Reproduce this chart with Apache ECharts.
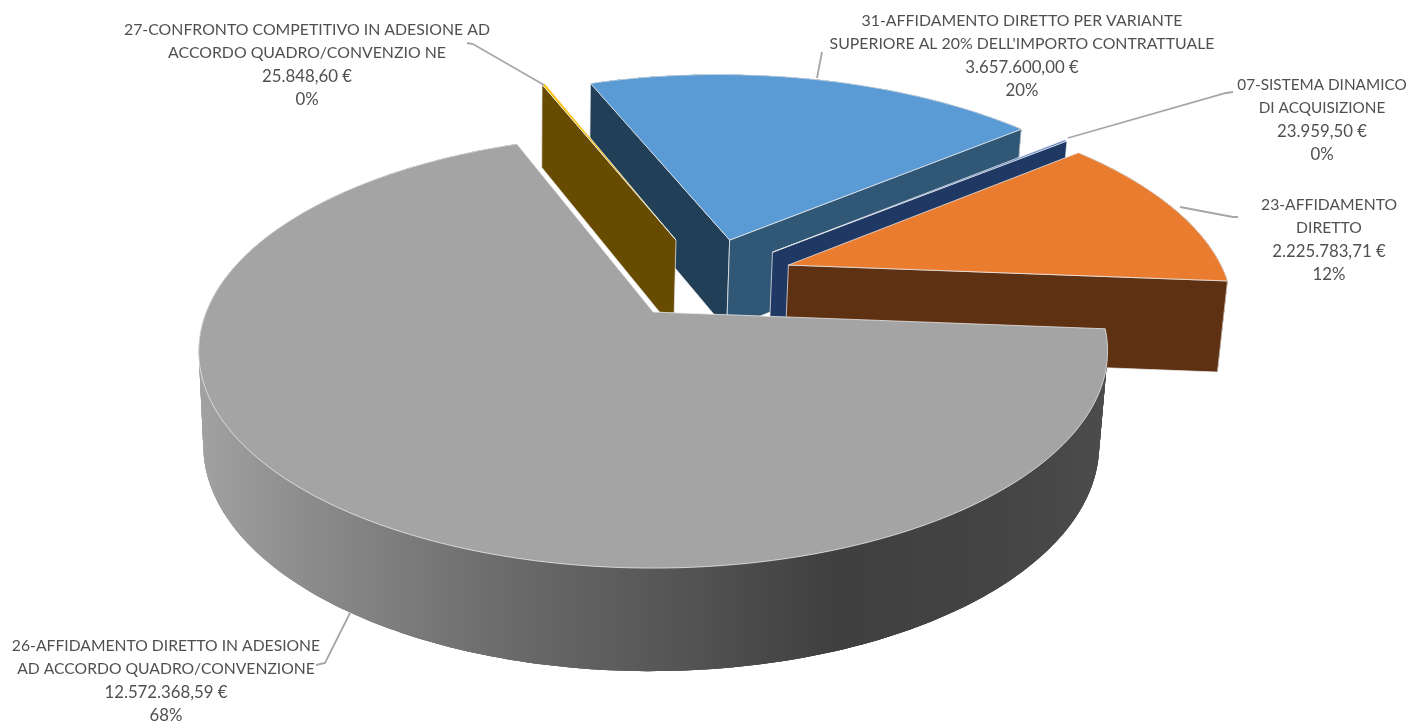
<!DOCTYPE html>
<html>
<head>
<meta charset="utf-8">
<style>html,body{margin:0;padding:0;background:#fff}#c{width:1415px;height:722px}</style>
<script src="https://cdn.jsdelivr.net/npm/echarts@6/dist/echarts.min.js"></script>
</head>
<body>
<div id="c"></div>
<script>
// ---- data (clockwise, starting at the blue slice) ----
var categories = [
  "31-AFFIDAMENTO DIRETTO PER VARIANTE SUPERIORE AL 20% DELL'IMPORTO CONTRATTUALE",
  "07-SISTEMA DINAMICO DI ACQUISIZIONE",
  "23-AFFIDAMENTO DIRETTO",
  "26-AFFIDAMENTO DIRETTO IN ADESIONE AD ACCORDO QUADRO/CONVENZIONE",
  "27-CONFRONTO COMPETITIVO IN ADESIONE AD ACCORDO QUADRO/CONVENZIO NE"
];
var values = [3657600.00, 23959.50, 2225783.71, 12572368.59, 25848.60];
var valueLabels = ["3.657.600,00 €", "23.959,50 €", "2.225.783,71 €", "12.572.368,59 €", "25.848,60 €"];
var percentLabels = ["20%", "0%", "12%", "68%", "0%"];
var nameLines = [
  ["31-AFFIDAMENTO DIRETTO PER VARIANTE", "SUPERIORE AL 20% DELL'IMPORTO CONTRATTUALE"],
  ["07-SISTEMA DINAMICO", "DI ACQUISIZIONE"],
  ["23-AFFIDAMENTO", "DIRETTO"],
  ["26-AFFIDAMENTO DIRETTO IN ADESIONE", "AD ACCORDO QUADRO/CONVENZIONE"],
  ["27-CONFRONTO COMPETITIVO IN ADESIONE AD", "ACCORDO QUADRO/CONVENZIO NE"]
];

// ---- layout and style ----
var startAngle = 339.6;
var view = {cx: 655, cy: 312, a: 447, b: 210, k: 0.18, vanishX: 520, converge: 0.0142};
var explode = [[0.178, -0.365], [0.277, -0.30], [0.311, -0.233], [-0.004, 0], [0.05, -0.365]];
var radiusU = [1.025, 1.03, 1.008, 1, 1.02];
var radiusV = [1.055, 1.045, 1.03, 1, 1.05];
var drawOrder = [0, 2, 3, 4, 1];           // blue, gold, navy, orange, gray
var topColors = ['#5b9bd5', '#4f78c0', '#ea7c30', '#a4a4a4', '#ffc000'];
var wallCcw = ['#223f58', '#203864', '#5f3113', '#5a5a5a', '#664b00'];
var wallCw  = ['#315776', '#203864', '#5f3113', '#5a5a5a', '#664b00'];
var labelCenter = [[1022, 21], [1322, 85], [1329, 205], [166, 646], [307, 30]];
var nameFont = [15.85, 15.3, 15.7, 15.7, 15.85];
var valueFont = 16.8;
var leaders = [
  [[817, 78], [822, 52]],
  [[1068, 138], [1226, 93], [1233, 92]],
  [[1180, 207], [1233, 217], [1238, 217]],
  [[350, 613], [325, 663], [316, 665]],
  [[544, 85], [473, 44], [467, 43]]
];
var lineGap = 23.2;

function project(u, v) {
  var w = 1 - view.k * v;
  return [view.cx + view.a * u / w, view.cy + view.b * v / w];
}
function lower(p) {
  return [p[0] + (view.vanishX - p[0]) * view.converge, p[1] + 91 + 0.0415 * (p[1] - 278)];
}
var total = values.reduce(function (s, x) { return s + x; }, 0);
var starts = [];
values.reduce(function (acc, x, i) { starts[i] = acc; return acc + x / total * 360; }, startAngle);

function grayWallFill() {
  return new echarts.graphic.LinearGradient(198, 0, 1108, 0, [
    {offset: 0, color: '#a2a2a2'},
    {offset: 0.12, color: '#8c8c8c'},
    {offset: 0.33, color: '#6c6c6c'},
    {offset: 0.55, color: '#525252'},
    {offset: 0.7, color: '#3f3f3f'},
    {offset: 0.88, color: '#444444'},
    {offset: 1, color: '#4c4c4c'}
  ], true);
}
var edge = {stroke: 'rgba(235,235,235,0.75)', lineWidth: 1};

function renderSlice(params, api) {
  var i = params.dataIndex;
  var value = api.value(0);
  var a0 = starts[i], sweep = value / total * 360;
  var off = explode[i];
  var apex = project(off[0], off[1]);
  var arc = [];
  var n = Math.max(2, Math.ceil(sweep));
  for (var s = 0; s <= n; s++) {
    var t = (a0 + sweep * s / n) * Math.PI / 180;
    arc.push(project(off[0] + radiusU[i] * Math.sin(t), off[1] - radiusV[i] * Math.cos(t)));
  }
  var lowArc = arc.map(lower);
  var z = drawOrder[i] * 10 + 1;
  var kids = [];
  if (sweep > 5) {
    var fill = i === 3 ? grayWallFill() : wallCw[i];
    // overlapping strips, so no seams show between them
    for (var q = 0; q < n; q++) {
      var e = Math.min(n, q + 3);
      kids.push({type: 'polygon', z2: z,
        shape: {points: arc.slice(q, e + 1).concat(lowArc.slice(q, e + 1).reverse())},
        style: {fill: fill}});
    }
  }
  // a radial wall is only seen when its outward normal faces the viewer
  if (-Math.sin(a0 * Math.PI / 180) > 0) {
    kids.push({type: 'polygon', z2: z + 1,
      shape: {points: [apex, arc[0], lowArc[0], lower(apex)]},
      style: Object.assign({fill: wallCcw[i]}, edge)});
  }
  if (Math.sin((a0 + sweep) * Math.PI / 180) > 0) {
    kids.push({type: 'polygon', z2: z + 1,
      shape: {points: [apex, arc[n], lowArc[n], lower(apex)]},
      style: Object.assign({fill: wallCw[i]}, edge)});
  }
  kids.push({type: 'polygon', z2: z + 2, shape: {points: [apex].concat(arc)},
    style: Object.assign({fill: topColors[i]}, edge)});
  kids.push({type: 'polyline', z2: 100, shape: {points: leaders[i]},
    style: {fill: null, stroke: '#a6a6a6', lineWidth: 1.8}});
  var lines = nameLines[i].concat([valueLabels[i], percentLabels[i]]);
  lines.forEach(function (txt, j) {
    var size = j < 2 ? nameFont[i] : valueFont;
    kids.push({type: 'text', z2: 101, x: labelCenter[i][0], y: labelCenter[i][1] + j * lineGap,
      style: {text: txt, fill: '#505050', font: '400 ' + size + 'px Lato, "Open Sans", sans-serif',
        textAlign: 'center', textVerticalAlign: 'middle'}});
  });
  return {type: 'group', children: kids};
}

var chart = echarts.init(document.getElementById('c'), null, {renderer: 'canvas'});
chart.setOption({
  animation: false,
  backgroundColor: '#fff',
  series: [{
    type: 'custom',
    coordinateSystem: 'none',
    silent: true,
    renderItem: renderSlice,
    data: values.map(function (v, i) { return {name: categories[i], value: [v]}; })
  }]
});
</script>
</body>
</html>
